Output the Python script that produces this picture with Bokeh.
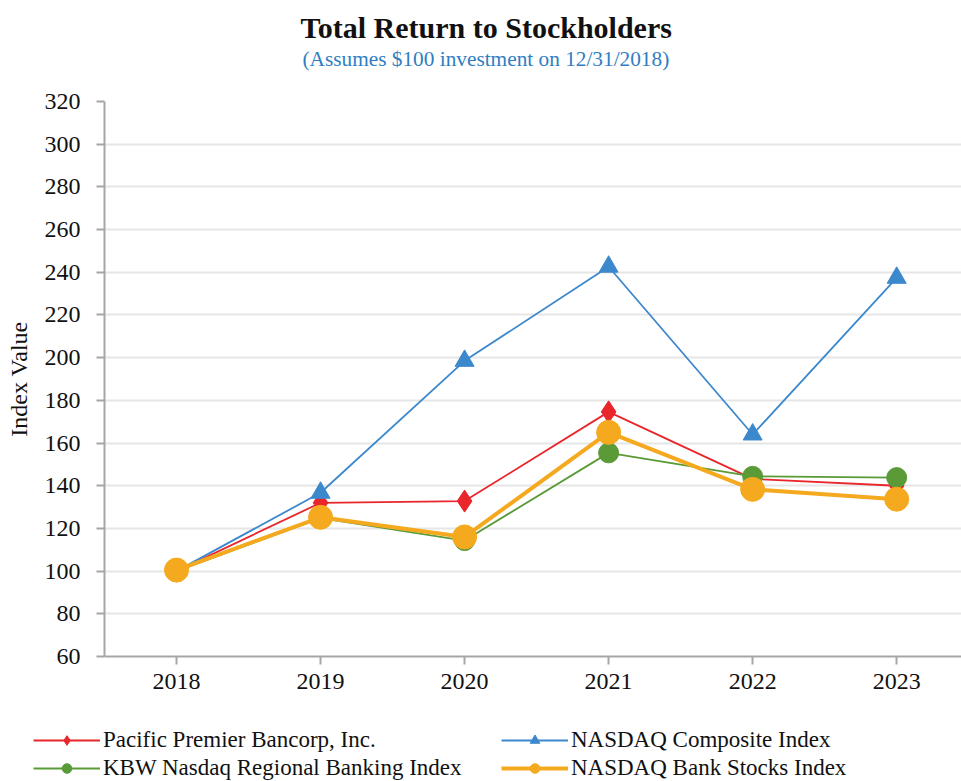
from bokeh.plotting import figure
from bokeh.layouts import column
from bokeh.models import Range1d, FixedTicker, Legend, LegendItem, Title
from bokeh.embed import file_html
from bokeh.resources import INLINE

years = [2018, 2019, 2020, 2021, 2022, 2023]
year_labels = ["2018", "2019", "2020", "2021", "2022", "2023"]
pacific_premier = [100.0, 132.0, 132.8, 174.6, 143.2, 140.0]
nasdaq_composite = [100.0, 136.7, 198.5, 242.6, 164.0, 237.4]
kbw_regional = [100.0, 124.8, 114.3, 155.4, 144.4, 143.8]
nasdaq_bank = [100.5, 125.2, 116.0, 165.0, 138.3, 133.7]
series_names = ["Pacific Premier Bancorp, Inc.", "NASDAQ Composite Index",
                "KBW Nasdaq Regional Banking Index", "NASDAQ Bank Stocks Index"]
y_ticks = list(range(60, 321, 20))

FONT = "Liberation Serif"
RED = "#E8262B"
BLUE = "#3C88CD"
GREEN = "#5A9A37"
ORANGE = "#F5A91E"

styles = [
    (pacific_premier, RED, 1.8, "diamond", 22),
    (nasdaq_composite, BLUE, 1.8, "triangle", 19),
    (kbw_regional, GREEN, 1.8, "circle", 20),
    (nasdaq_bank, ORANGE, 4, "circle", 24),
]

p = figure(frame_width=857, frame_height=555, output_backend="svg", toolbar_location=None,
           x_range=Range1d(2017.5, 2023.45), y_range=Range1d(60, 320),
           min_border_left=104, min_border_right=0, min_border_top=101, min_border_bottom=60)
p.outline_line_color = None
p.background_fill_color = "white"

p.xaxis.ticker = FixedTicker(ticks=years)
p.xaxis.major_label_overrides = {y: l for y, l in zip(years, year_labels)}
p.yaxis.ticker = FixedTicker(ticks=y_ticks)
for ax in (p.xaxis[0], p.yaxis[0]):
    ax.axis_line_color = "#A6A6A6"
    ax.axis_line_width = 2
    ax.major_tick_line_color = "#A6A6A6"
    ax.major_tick_line_width = 2
    ax.major_tick_in = 0
    ax.major_tick_out = 8
    ax.minor_tick_line_color = None
    ax.major_label_text_font = FONT
    ax.major_label_text_font_size = "24px"
    ax.major_label_text_color = "#111111"
p.xaxis.major_label_standoff = 9
p.yaxis.major_label_standoff = 16
p.yaxis.axis_label = "Index Value"
p.yaxis.axis_label_text_font = FONT
p.yaxis.axis_label_text_font_size = "24px"
p.yaxis.axis_label_text_font_style = "normal"
p.yaxis.axis_label_text_color = "#111111"
p.yaxis.axis_label_standoff = 10

p.xgrid.grid_line_color = None
p.ygrid.grid_line_color = "#E6E6E6"
p.ygrid.grid_line_width = 2

for vals, col, lw, mk, sz in styles:
    p.line(years, vals, line_color=col, line_width=lw)
    p.scatter(years, vals, marker=mk, size=sz, fill_color=col, line_color=col)

sub = Title(text="(Assumes $100 investment on 12/31/2018)", align="left", offset=198,
            text_font=FONT, text_font_size="21.3px", text_font_style="normal",
            text_color="#2F7EC3", standoff=62)
p.add_layout(sub, "above")
main = Title(text="Total Return to Stockholders", align="left", offset=196,
             text_font=FONT, text_font_size="30px", text_font_style="bold",
             text_color="#111111", standoff=-60)
p.add_layout(main, "above")

# legend strip below the chart (same series, rendered out of view; legend only)
lg = figure(width=961, height=65, output_backend="svg", toolbar_location=None,
            x_range=Range1d(0, 1), y_range=Range1d(1000, 1001),
            min_border_left=0, min_border_right=0, min_border_top=0, min_border_bottom=0)
lg.outline_line_color = None
lg.axis.visible = False
lg.grid.grid_line_color = None
lg.styles = {"transform": "translateX(-71px)"}
items = []
for name, (vals, col, lw, mk, sz) in zip(series_names, styles):
    rl = lg.line(years, vals, line_color=col, line_width=lw)
    rm = lg.scatter(years, vals, marker=mk, size=sz, fill_color=col, line_color=col)
    items.append(LegendItem(label=name, renderers=[rl, rm]))

legend = Legend(items=items, orientation="horizontal", ncols=2, location=(0, 0))
legend.border_line_color = None
legend.background_fill_alpha = 0
legend.label_text_font = FONT
legend.label_text_font_size = "23px"
legend.label_text_color = "#111111"
legend.glyph_width = 67
legend.glyph_height = 24
legend.label_height = 22
legend.label_standoff = 3
legend.spacing = 2
legend.label_width = 396
legend.padding = 0
legend.margin = 0
lg.add_layout(legend, "center")

layout = column(p, lg, spacing=0)
open("out.html", "w").write(file_html(layout, INLINE))
